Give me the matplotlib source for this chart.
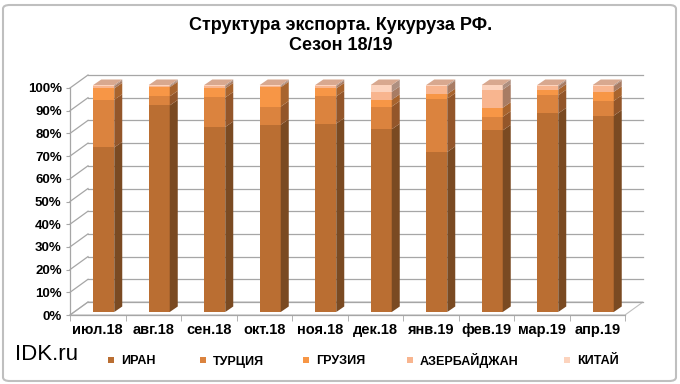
import numpy as np
import matplotlib
matplotlib.use("Agg")
import matplotlib.pyplot as plt
from matplotlib.patches import Polygon, FancyBboxPatch, Rectangle

plt.rcParams["font.family"] = ["Liberation Sans", "DejaVu Sans"]

# Data (shares, %)
months = ["июл.18", "авг.18", "сен.18", "окт.18", "ноя.18",
          "дек.18", "янв.19", "фев.19", "мар.19", "апр.19"]
iran = [72.5, 91.0, 81.5, 82.5, 83.0, 80.5, 70.5, 80.0, 87.5, 86.5]
turkey = [21.0, 4.0, 13.0, 8.0, 12.0, 10.0, 23.5, 6.0, 8.0, 6.5]
georgia = [5.0, 4.0, 4.0, 8.5, 3.5, 3.0, 2.0, 4.0, 2.5, 4.0]
azerbaijan = [1.0, 0.5, 1.0, 0.5, 1.0, 3.5, 3.5, 8.0, 1.5, 2.5]
china = [0.5, 0.5, 0.5, 0.5, 0.5, 3.0, 0.5, 2.0, 0.5, 0.5]

series = [("ИРАН", iran), ("ТУРЦИЯ", turkey), ("ГРУЗИЯ", georgia),
          ("АЗЕРБАЙДЖАН", azerbaijan), ("КИТАЙ", china)]
front_colors = ["#BA6E32", "#DB833E", "#F79646", "#F8B58F", "#FCD3BD"]
side_colors = ["#7A4A22", "#93562A", "#A8642E", "#A87C64", "#AE8F80"]
top_color = "#D8A88F"

W, H = 680, 384
fig = plt.figure(figsize=(W / 100, H / 100), dpi=100)

# outer frame
fig.patches.append(FancyBboxPatch((3 / W, 3 / H), 1 - 7 / W, 1 - 8 / H,
                                  boxstyle="round,pad=0,rounding_size=0.01",
                                  transform=fig.transFigure, fill=False,
                                  edgecolor="#BFBFBF", linewidth=1.5))

left, right, bottom, top = 70, 625, 315, 88
ax = fig.add_axes([left / W, 1 - bottom / H, (right - left) / W, (bottom - top) / H])
n = len(months)
ax.set_xlim(-0.5, n - 0.5)
ax.set_ylim(0, 100)

px_x = (right - left) / n        # pixels per category
px_y = (bottom - top) / 100.0    # pixels per percent

# wall depth offset
DX, DY = 18 / px_x, 13 / px_y
grid_c = "#A6A6A6"
yt = np.arange(0, 101, 10)

# floor
ax.add_patch(Polygon([(-0.5, 0), (n - 0.5, 0), (n - 0.5 + DX, DY), (-0.5 + DX, DY)],
                     closed=True, facecolor="white", edgecolor="#BFBFBF",
                     linewidth=0.8, clip_on=False, zorder=1))
# back wall gridlines + side wall diagonals
for y in yt:
    ax.plot([-0.5 + DX, n - 0.5 + DX], [y + DY, y + DY], color=grid_c,
            linewidth=0.9, clip_on=False, zorder=1)
    ax.plot([-0.5, -0.5 + DX], [y, y + DY], color=grid_c,
            linewidth=0.9, clip_on=False, zorder=1)

# bars
x = np.arange(n)
bw = 21 / px_x
sx, sy = 6 / px_x, 3 / px_y
ddx, ddy = 8 / px_x, 5.5 / px_y
base = np.zeros(n)
for (name, vals), fc, sc in zip(series, front_colors, side_colors):
    vals = np.array(vals)
    ax.bar(x + sx, vals, bw, bottom=base + sy, color=fc, zorder=3,
           clip_on=False, linewidth=0)
    for i in range(n):
        b, t = base[i] + sy, base[i] + vals[i] + sy
        xr = x[i] + sx + bw / 2
        ax.add_patch(Polygon([(xr, b), (xr + ddx, b + ddy), (xr + ddx, t + ddy), (xr, t)],
                             closed=True, facecolor=sc, linewidth=0,
                             zorder=3, clip_on=False))
    base = base + vals

for i in range(n):
    t = base[i] + sy
    xl, xr = x[i] + sx - bw / 2, x[i] + sx + bw / 2
    ax.add_patch(Polygon([(xl, t), (xr, t), (xr + ddx, t + ddy), (xl + ddx, t + ddy)],
                         closed=True, facecolor=top_color, linewidth=0,
                         zorder=3, clip_on=False))

# axes
for s in ["top", "right"]:
    ax.spines[s].set_visible(False)
for s in ["left", "bottom"]:
    ax.spines[s].set_color(grid_c)
    ax.spines[s].set_linewidth(0.9)
ax.set_yticks(yt)
ax.set_yticklabels([f"{v}%" for v in yt], fontsize=9.5, fontweight="bold")
ax.set_xticks(x)
ax.set_xticklabels(months, fontsize=10.5, fontweight="bold")
ax.set_xticks(np.arange(-0.5, n, 1), minor=True)
ax.tick_params(axis="x", which="major", length=0, pad=6)
ax.tick_params(axis="x", which="minor", length=4, color=grid_c)
ax.tick_params(axis="y", length=3, color=grid_c, pad=3)
ax.set_facecolor("none")

fig.text(341 / W, 1 - 25 / H, "Структура экспорта. Кукуруза РФ.", ha="center",
         va="center", fontsize=13, fontweight="bold")
fig.text(341 / W, 1 - 45 / H, "Сезон 18/19", ha="center", va="center",
         fontsize=13, fontweight="bold")

fig.text(15 / W, 1 - 355 / H, "IDK.ru", ha="left", va="center", fontsize=16)

# legend (manual, so all labels share one baseline)
leg_x = [111, 203, 306, 410, 567]
leg_y = 1 - 360 / H
msz = 6
for lx, (name, _), c in zip(leg_x, series, front_colors):
    fig.patches.append(Rectangle(((lx - msz / 2) / W, leg_y - msz / 2 / H), msz / W, msz / H,
                                 transform=fig.transFigure, facecolor=c,
                                 edgecolor="none"))
    fig.text((lx + 10) / W, leg_y - 4.5 / H, name, ha="left", va="baseline",
             fontsize=9, fontweight="bold")

fig.savefig("out.png", dpi=100)
